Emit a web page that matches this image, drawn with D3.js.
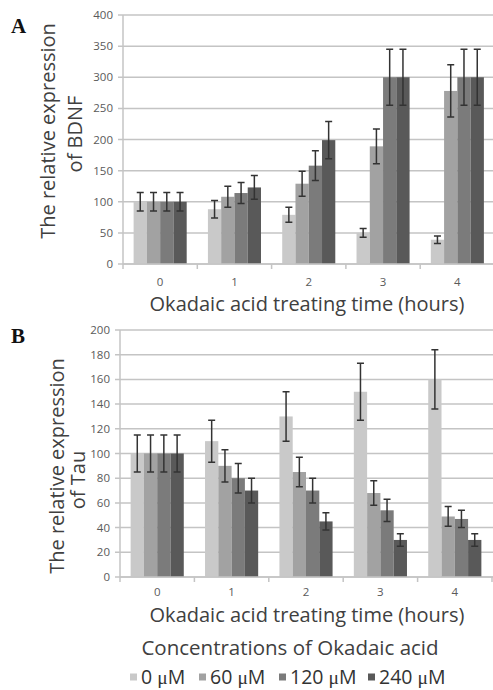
<!DOCTYPE html>
<html>
<head>
<meta charset="utf-8">
<script src="https://cdn.jsdelivr.net/npm/d3@7"></script>
<style>
  body { margin: 0; background: #fff; }
  svg { display: block; }
</style>
</head>
<body>
<svg id="chart" width="493" height="690"></svg>
<script>
var hours = ['0', '1', '2', '3', '4'];
var concentrations = ['0', '60', '120', '240']; // in \u03bcM
var barColors = ['#c9c9c9', '#a2a2a2', '#7b7b7b', '#595959'];

// panel A, BDNF: one row per hour, one value per concentration
var bdnfValues = [
  [100, 100, 100, 100],
  [88, 108, 114, 123],
  [79, 129, 158, 199],
  [50, 189, 300, 300],
  [39, 278, 300, 300]
];
var bdnfErrors = [
  [15, 15, 15, 15],
  [14, 17, 17, 19],
  [12, 20, 24, 30],
  [7, 28, 45, 45],
  [6, 42, 45, 45]
];
var bdnfTicks = [0, 50, 100, 150, 200, 250, 300, 350, 400];

// panel B, Tau
var tauValues = [
  [100, 100, 100, 100],
  [110, 90, 80, 70],
  [130, 85, 70, 45],
  [150, 68, 54, 30],
  [160, 49, 47, 30]
];
var tauErrors = [
  [15, 15, 15, 15],
  [17, 13, 12, 10],
  [20, 12, 10, 7],
  [23, 10, 9, 5],
  [24, 8, 7, 5]
];
var tauTicks = [0, 20, 40, 60, 80, 100, 120, 140, 160, 180, 200];

var svg = d3.select('#chart');
var font = '"Open Sans", "DejaVu Sans", sans-serif';

function drawPanel(opt) {
  var g = svg.append('g');
  var x = d3.scaleBand().domain(hours).range([opt.left, opt.right]);
  var inner = d3.scaleBand().domain(d3.range(concentrations.length))
    .range([0, x.bandwidth()]).paddingOuter(0.8);
  var y = d3.scaleLinear().domain([0, opt.max]).range([opt.bottom, opt.top]);

  // gridlines + y ticks
  g.selectAll('line.grid').data(opt.ticks).enter().append('line')
    .attr('x1', opt.left - 5).attr('x2', 493)
    .attr('y1', function(d) { return y(d); })
    .attr('y2', function(d) { return y(d); })
    .attr('stroke', '#c4c4c4').attr('stroke-width', 1.5);

  g.selectAll('text.ytick').data(opt.ticks).enter().append('text')
    .attr('x', opt.left - 10)
    .attr('y', function(d) { return y(d) + 4; })
    .attr('text-anchor', 'end')
    .attr('font-family', font).attr('font-size', 11.5)
    .attr('fill', '#5a5a5a')
    .text(function(d) { return d; });

  // y axis line
  g.append('line')
    .attr('x1', opt.left).attr('x2', opt.left)
    .attr('y1', y(opt.max)).attr('y2', opt.bottom)
    .attr('stroke', '#c4c4c4').attr('stroke-width', 1.5);

  // x tick marks between categories
  var bounds = hours.map(function(h) { return x(h); }).concat([opt.right]);
  g.selectAll('line.xtick').data(bounds).enter().append('line')
    .attr('x1', function(d) { return d; }).attr('x2', function(d) { return d; })
    .attr('y1', opt.bottom).attr('y2', opt.bottom + 5)
    .attr('stroke', '#c4c4c4').attr('stroke-width', 1.5);

  // bars
  var groups = g.selectAll('g.hour').data(opt.values).enter().append('g')
    .attr('transform', function(d, i) { return 'translate(' + x(hours[i]) + ',0)'; });

  groups.selectAll('rect').data(function(d) { return d; }).enter().append('rect')
    .attr('x', function(d, j) { return inner(j); })
    .attr('width', inner.bandwidth())
    .attr('y', function(d) { return y(d); })
    .attr('height', function(d) { return opt.bottom - y(d); })
    .attr('fill', function(d, j) { return barColors[j]; });

  // error bars
  groups.each(function(row, i) {
    var grp = d3.select(this);
    row.forEach(function(v, j) {
      var e = opt.errors[i][j];
      var cx = inner(j) + inner.bandwidth() / 2;
      var path = d3.path();
      path.moveTo(cx, y(v + e)); path.lineTo(cx, y(v - e));
      path.moveTo(cx - 3.5, y(v + e)); path.lineTo(cx + 3.5, y(v + e));
      path.moveTo(cx - 3.5, y(v - e)); path.lineTo(cx + 3.5, y(v - e));
      grp.append('path').attr('d', path.toString())
        .attr('stroke', '#333').attr('stroke-width', 1.5).attr('fill', 'none');
    });
  });

  // x axis baseline
  g.append('line')
    .attr('x1', opt.left).attr('x2', 493)
    .attr('y1', opt.bottom).attr('y2', opt.bottom)
    .attr('stroke', '#c4c4c4').attr('stroke-width', 1.5);

  // x tick labels
  g.selectAll('text.xlab').data(hours).enter().append('text')
    .attr('x', function(d) { return x(d) + x.bandwidth() / 2; })
    .attr('y', opt.bottom + opt.xLabOff)
    .attr('text-anchor', 'middle')
    .attr('font-family', font).attr('font-size', 11.5)
    .attr('fill', '#5a5a5a')
    .text(function(d) { return d; });

  g.append('text')
    .attr('x', 307).attr('y', opt.xTitleY)
    .attr('text-anchor', 'middle')
    .attr('font-family', font).attr('font-size', 20)
    .attr('fill', '#404040')
    .text('Okadaic acid treating time (hours)');

  // y title, two lines
  opt.ytitle.forEach(function(t, k) {
    g.append('text')
      .attr('transform', 'translate(' + opt.ytx[k] + ',' + opt.yty[k] + ') rotate(-90)')
      .attr('text-anchor', 'middle')
      .attr('font-family', font).attr('font-size', 20)
      .attr('fill', '#404040')
      .text(t);
  });

  // panel letter
  g.append('text')
    .attr('x', 11).attr('y', opt.letterY)
    .attr('font-family', '"Liberation Serif", "Times New Roman", serif')
    .attr('font-weight', 'bold').attr('font-size', 21)
    .attr('fill', '#111')
    .text(opt.letter);
}

drawPanel({
  letter: 'A', letterY: 33,
  left: 123, right: 494.5, top: 15, bottom: 264, max: 400,
  values: bdnfValues, errors: bdnfErrors, ticks: bdnfTicks,
  xLabOff: 22, xTitleY: 311,
  ytitle: ['The relative expression', 'of BDNF'],
  ytx: [55, 82], yty: [131, 134]
});

drawPanel({
  letter: 'B', letterY: 343,
  left: 120, right: 492, top: 330, bottom: 577, max: 200,
  values: tauValues, errors: tauErrors, ticks: tauTicks,
  xLabOff: 19, xTitleY: 622,
  ytitle: ['The relative expression', 'of Tau'],
  ytx: [64, 85], yty: [466, 480]
});

// legend
svg.append('text')
  .attr('x', 290).attr('y', 655)
  .attr('text-anchor', 'middle')
  .attr('font-family', font).attr('font-size', 20.5)
  .attr('fill', '#404040')
  .text('Concentrations of Okadaic acid');

var legendX = [130, 199, 279, 368];
var leg = svg.selectAll('g.leg').data(concentrations).enter().append('g')
  .attr('transform', function(d, i) { return 'translate(' + legendX[i] + ',677)'; });
leg.append('rect')
  .attr('x', 0).attr('y', -3.5).attr('width', 7).attr('height', 7)
  .attr('fill', function(d, i) { return barColors[i]; });
var legText = leg.append('text')
  .attr('x', 11).attr('y', 7)
  .attr('font-family', font).attr('font-size', 19.5)
  .attr('fill', '#333');
legText.append('tspan').text(function(d) { return d + ' '; });
legText.append('tspan')
  .attr('font-family', '"Liberation Serif", "Times New Roman", serif')
  .text('\u03bc');
legText.append('tspan').text('M');
</script>
</body>
</html>
